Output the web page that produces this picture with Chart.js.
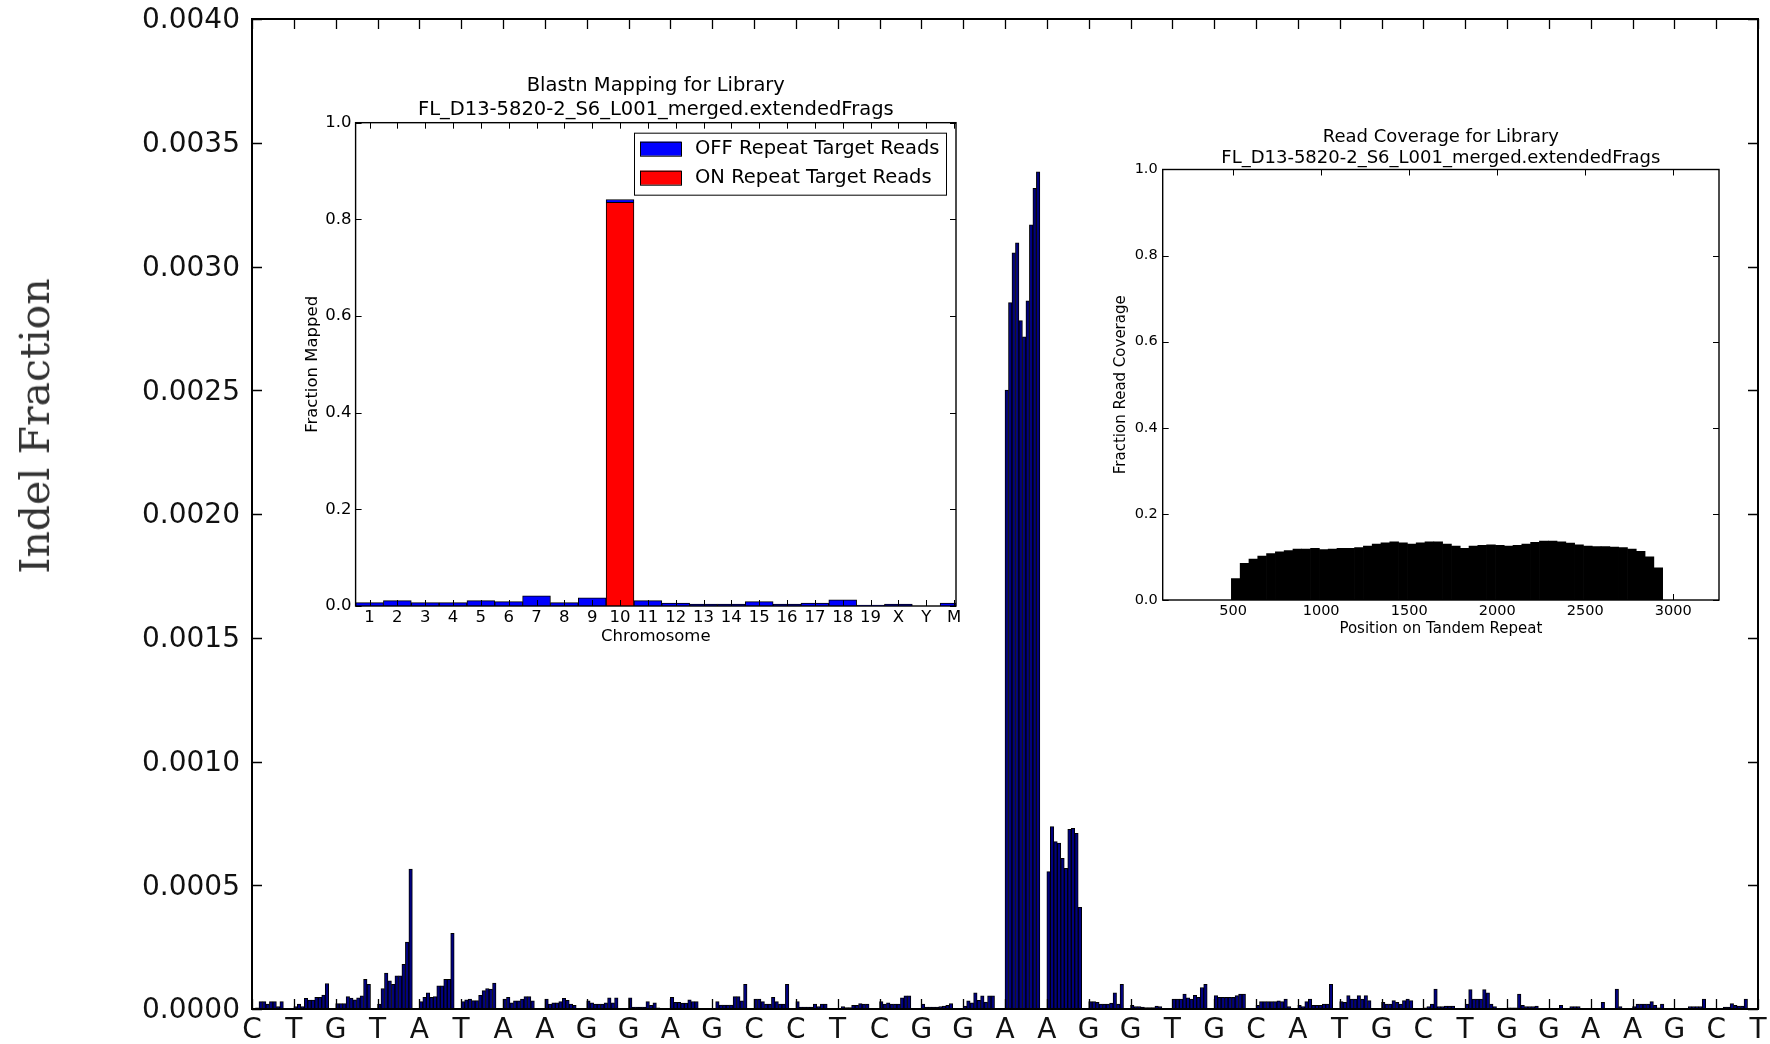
<!DOCTYPE html>
<html>
<head>
<meta charset="utf-8">
<title>Indel Fraction</title>
<script src="https://cdn.jsdelivr.net/npm/chart.js@4.4.1/dist/chart.umd.min.js"></script>
<style>
  body { margin: 0; background: #fff; }
  #wrap { position: relative; width: 1770px; height: 1044px; overflow: hidden; }
  canvas { position: absolute; }
  #ylabel {
    position: absolute; left: 35px; top: 426px;
    transform: translate(-50%, -50%) rotate(-90deg);
    font: 41px 'DejaVu Serif', serif; color: #333; white-space: nowrap;
  }
</style>
</head>
<body>
<div id="wrap">
  <canvas id="mainChart" width="1770" height="1044" style="left:0;top:0;width:1770px;height:1044px"></canvas>
  <canvas id="blastChart" width="674" height="579" style="left:301px;top:71px;width:674px;height:579px"></canvas>
  <canvas id="coverageChart" width="650" height="518" style="left:1110px;top:123px;width:650px;height:518px"></canvas>
  <div id="ylabel">Indel Fraction</div>
</div>
<script>
// sequence letters on the x axis
const sequence = ['C','T','G','T','A','T','A','A','G','G','A','G','C','C','T','C','G','G',
                  'A','A','G','G','T','G','C','A','T','G','C','T','G','G','A','A','G','C','T'];

// indel fraction, 10 bars between each pair of letters
const indelFraction = [
  [0, 0.000005, 0.00003, 0.00003, 0.00002, 0.00003, 0.00003, 0.00001, 0.00003, 0],
  [0.00001, 0.00002, 0.00001, 0.000043, 0.000036, 0.000036, 0.000047, 0.000047, 0.000056, 0.000103],
  [0.000022, 0.000022, 0.000022, 0.00005, 0.000044, 0.000037, 0.000045, 0.000053, 0.00012, 0.0001],
  [0.00002, 0.000083, 0.000145, 0.000114, 0.0001, 0.000134, 0.000134, 0.00018, 0.00027, 0.000565],
  [0.00003, 0.000047, 0.000065, 0.000047, 0.00005, 0.000094, 0.000094, 0.00012, 0.00012, 0.000306],
  [0.00003, 0.000037, 0.00004, 0.000034, 0.000034, 0.000055, 0.000074, 0.000083, 0.00008, 0.000105],
  [0.00004, 0.000047, 0.000025, 0.000033, 0.000033, 0.00004, 0.00005, 0.00005, 0.000033, 0],
  [0.00004, 0.00002, 0.000025, 0.000025, 0.00003, 0.000043, 0.000035, 0.00002, 0.000015, 0],
  [0.000033, 0.000025, 0.00002, 0.00002, 0.00002, 0.000025, 0.000045, 0.000025, 0.000045, 0],
  [0.000045, 0.000008, 0.000008, 0.000008, 0.000008, 0.00003, 0.000015, 0.000025, 0.000005, 0],
  [0.000047, 0.000027, 0.000027, 0.000024, 0.000024, 0.000037, 0.00003, 0.00003, 0, 0],
  [0, 0.00003, 0.000016, 0.000016, 0.000016, 0.000016, 0.00005, 0.00005, 0.000033, 0.0001],
  [0.00004, 0.00004, 0.00003, 0.00002, 0.00002, 0.000047, 0.00003, 0.00002, 0.00002, 0.0001],
  [0.00003, 0.000008, 0.000008, 0.000008, 0.000008, 0.00002, 0.00001, 0.00002, 0.00002, 0],
  [0.000003, 0.00001, 0.000006, 0.000006, 0.000015, 0.000015, 0.000022, 0.00002, 0.00002, 0],
  [0.00003, 0.00002, 0.000025, 0.00002, 0.00002, 0.00002, 0.000045, 0.000053, 0.000053, 0],
  [0.00002, 0.000008, 0.000008, 0.000008, 0.000008, 0.00001, 0.000012, 0.000015, 0.000022, 0],
  [0.000012, 0.000033, 0.000025, 0.000065, 0.000035, 0.000053, 0.000028, 0.000053, 0.000053, 0],
  [0.002501, 0.002854, 0.003055, 0.003096, 0.002781, 0.002716, 0.002861, 0.003168, 0.003316, 0.003383],
  [0.000555, 0.000737, 0.000676, 0.00067, 0.000609, 0.000568, 0.000726, 0.00073, 0.00071, 0.000411],
  [0.00003, 0.00003, 0.000027, 0.00002, 0.00002, 0.00002, 0.000024, 0.000065, 0.00002, 0.0001],
  [0.000015, 0.00001, 0.00001, 0.000008, 0.000006, 0.000006, 0.000006, 0.000012, 0.00001, 0],
  [0.00004, 0.00004, 0.00004, 0.00006, 0.000045, 0.00004, 0.000055, 0.000047, 0.000087, 0.0001],
  [0.000054, 0.000047, 0.000047, 0.000047, 0.000047, 0.000047, 0.000054, 0.00006, 0.00006, 0],
  [0.000015, 0.00003, 0.00003, 0.00003, 0.00003, 0.00003, 0.000033, 0.00003, 0.00004, 0.00001],
  [0.000015, 0.00001, 0.00003, 0.00004, 0.000015, 0.000015, 0.000015, 0.00002, 0.00002, 0.0001],
  [0.00003, 0.000027, 0.000054, 0.00004, 0.00004, 0.000054, 0.00004, 0.000054, 0.000034, 0],
  [0.000027, 0.00002, 0.00002, 0.000034, 0.000027, 0.00002, 0.000034, 0.00004, 0.000034, 0],
  [0.000005, 0.00001, 0.00002, 0.00008, 0.00001, 0.00001, 0.000012, 0.000012, 0.000012, 0],
  [0.00002, 0.000078, 0.00004, 0.00004, 0.00004, 0.000078, 0.000065, 0.00002, 0.00001, 0],
  [0.000005, 0.000005, 0.000005, 0.00006, 0.000015, 0.00001, 0.00001, 0.00001, 0.000012, 0],
  [0.000003, 0.000003, 0.000003, 0.000015, 0.000003, 0.000003, 0.00001, 0.00001, 0.00001, 0],
  [0.000003, 0.000003, 0.000003, 0.000027, 0.000003, 0.000003, 0.000003, 0.00008, 0.00001, 0],
  [0.00001, 0.00002, 0.00002, 0.00002, 0.00002, 0.00003, 0.000015, 0.000005, 0.00002, 0],
  [0.000003, 0.000003, 0.000003, 0.000003, 0.00001, 0.00001, 0.00001, 0.00001, 0.00004, 0],
  [0.000003, 0.000003, 0.000008, 0.000008, 0.000022, 0.000015, 0.000012, 0.000012, 0.00004, 0]
];
const yTicks = [0, 0.0005, 0.001, 0.0015, 0.002, 0.0025, 0.003, 0.0035, 0.004];

// inset 1: blastn mapping
const chromosomes = ['1','2','3','4','5','6','7','8','9','10','11','12','13','14','15','16','17','18','19','X','Y','M'];
const offRepeat = [0.007, 0.011, 0.007, 0.007, 0.011, 0.009, 0.021, 0.007, 0.017, 0.006, 0.011,
                   0.006, 0.004, 0.004, 0.009, 0.004, 0.006, 0.013, 0.002, 0.004, 0, 0.006];
const onRepeat = [null, null, null, null, null, null, null, null, null, 0.835, null,
                  null, null, null, null, null, null, null, null, null, null, null];

// inset 2: read coverage, 50 bp bins starting at 490
const coverageStart = 490;
const coverageBin = 50;
const coverage = [0.05, 0.085, 0.095, 0.102, 0.108, 0.112, 0.115, 0.118, 0.118, 0.12,
                  0.117, 0.118, 0.12, 0.12, 0.122, 0.125, 0.13, 0.133, 0.135, 0.133,
                  0.13, 0.133, 0.135, 0.135, 0.13, 0.125, 0.12, 0.125, 0.127, 0.128,
                  0.127, 0.125, 0.127, 0.13, 0.134, 0.137, 0.137, 0.135, 0.132, 0.128,
                  0.125, 0.124, 0.124, 0.123, 0.122, 0.118, 0.113, 0.1, 0.075];
const coverageTicks = [500, 1000, 1500, 2000, 2500, 3000];

const FONT = "'DejaVu Sans', sans-serif";
Chart.defaults.font.family = FONT;
Chart.defaults.color = '#000';

// box around the axes with inward tick marks, matplotlib style
const frameTicks = {
  id: 'frameTicks',
  afterDatasetsDraw(chart, args, opts) {
    const { ctx, chartArea: a, scales } = chart;
    const len = opts.len;
    ctx.save();
    ctx.strokeStyle = '#000';
    ctx.lineWidth = opts.tickWidth;
    ctx.beginPath();
    scales.x.ticks.forEach((t, i) => {
      const x = Math.round(scales.x.getPixelForTick(i)) + 0.5;
      ctx.moveTo(x, a.bottom); ctx.lineTo(x, a.bottom - len);
      ctx.moveTo(x, a.top); ctx.lineTo(x, a.top + len);
    });
    scales.y.ticks.forEach((t, i) => {
      const y = Math.round(scales.y.getPixelForTick(i)) + 0.5;
      ctx.moveTo(a.left, y); ctx.lineTo(a.left + len, y);
      ctx.moveTo(a.right, y); ctx.lineTo(a.right - len, y);
    });
    ctx.stroke();
    ctx.lineWidth = opts.width;
    ctx.strokeRect(a.left, a.top, a.right - a.left, a.bottom - a.top);
    ctx.restore();
  }
};

// legend drawn inside the plot with a box
const boxLegend = {
  id: 'boxLegend',
  afterDraw(chart) {
    const { ctx, chartArea: a } = chart;
    const w = 312, h = 62;
    const x0 = a.right - 10 - w, y0 = a.top + 10;
    ctx.save();
    ctx.fillStyle = '#fff';
    ctx.fillRect(x0, y0, w, h);
    ctx.strokeStyle = '#000';
    ctx.lineWidth = 1;
    ctx.strokeRect(x0 + 0.5, y0 + 0.5, w, h);
    ctx.font = '19.5px ' + FONT;
    ctx.textBaseline = 'middle';
    chart.data.datasets.forEach((ds, i) => {
      const cy = y0 + 16 + i * 29;
      ctx.fillStyle = ds.backgroundColor;
      ctx.fillRect(x0 + 6, cy - 7, 41, 14);
      ctx.strokeRect(x0 + 6.5, cy - 6.5, 41, 14);
      ctx.fillStyle = '#000';
      ctx.fillText(ds.label, x0 + 61, cy);
    });
    ctx.restore();
  }
};

const noPadY = s => { s.paddingTop = 0; s.paddingBottom = 0; };
const noPadX = s => { s.paddingLeft = 0; s.paddingRight = 0; };

// main chart
const barPoints = [];
indelFraction.forEach((group, j) => {
  group.forEach((v, k) => barPoints.push({ x: j * 12 + k + 0.5, y: v }));
});

new Chart(document.getElementById('mainChart'), {
  type: 'bar',
  data: {
    datasets: [{
      data: barPoints,
      backgroundColor: '#000080',
      borderColor: '#000',
      borderWidth: 1,
      categoryPercentage: 1,
      barPercentage: 1
    }]
  },
  options: {
    responsive: false,
    animation: false,
    layout: { autoPadding: false, padding: { left: 0, right: 12, top: 19, bottom: 0 } },
    plugins: { legend: { display: false }, tooltip: { enabled: false },
               frameTicks: { len: 10, width: 2, tickWidth: 1.3 } },
    scales: {
      x: {
        type: 'linear', min: 0, max: (sequence.length - 1) * 12, offset: false,
        grid: { display: false, drawTicks: false }, border: { display: false },
        afterBuildTicks: s => { s.ticks = sequence.map((_, i) => ({ value: i * 12 })); },
        afterFit: s => { s.height = 35; noPadX(s); },
        ticks: { autoSkip: false, maxRotation: 0, padding: 5, font: { size: 28 }, color: '#111',
                 callback: v => sequence[Math.round(v / 12)] }
      },
      y: {
        min: 0, max: 0.004,
        grid: { display: false, drawTicks: false }, border: { display: false },
        afterBuildTicks: s => { s.ticks = yTicks.map(v => ({ value: v })); },
        afterFit: s => { s.width = 252; noPadY(s); },
        ticks: { padding: 12, labelOffset: 2, font: { size: 28 }, color: '#111', callback: v => v.toFixed(4) }
      }
    }
  },
  plugins: [frameTicks]
});

// inset 1: blastn mapping per chromosome (bars of width 1, axis cut at 21.57)
const offPoints = offRepeat.map((v, i) => ({ x: i + 0.5, y: v }));
const onPoints = onRepeat.map((v, i) => ({ x: i + 0.5, y: v }));

new Chart(document.getElementById('blastChart'), {
  type: 'bar',
  data: {
    datasets: [
      { label: 'OFF Repeat Target Reads', data: offPoints, backgroundColor: '#0000ff',
        borderColor: '#000', borderWidth: 1, order: 1 },
      { label: 'ON Repeat Target Reads', data: onPoints, backgroundColor: '#ff0000',
        borderColor: '#000', borderWidth: 1, order: 0 }
    ]
  },
  options: {
    responsive: false,
    animation: false,
    layout: { autoPadding: false, padding: { left: 0, right: 19, top: 0, bottom: 0 } },
    datasets: { bar: { categoryPercentage: 1, barPercentage: 1 } },
    plugins: {
      legend: { display: false }, tooltip: { enabled: false },
      title: { display: true, fullSize: false,
               text: ['Blastn Mapping for Library', 'FL_D13-5820-2_S6_L001_merged.extendedFrags'],
               font: { size: 19.5, weight: 'normal', lineHeight: 1.22 }, color: '#000',
               padding: { top: 3.3, bottom: 0.8 } },
      frameTicks: { len: 6, width: 1.4, tickWidth: 1 }
    },
    scales: {
      x: {
        type: 'linear', min: 0, max: 21.57, offset: false, stacked: true,
        grid: { display: false, drawTicks: false }, border: { display: false },
        afterBuildTicks: s => { s.ticks = chromosomes.map((_, i) => ({ value: i + 0.5 })); },
        afterFit: s => { s.height = 44; noPadX(s); },
        ticks: { autoSkip: false, maxRotation: 0, padding: 2, font: { size: 16.5 },
                 callback: v => chromosomes[Math.round(v - 0.5)] },
        title: { display: true, text: 'Chromosome', font: { size: 16.5 }, padding: { top: 0, bottom: 3 } }
      },
      y: {
        stacked: true, min: 0, max: 1,
        grid: { display: false, drawTicks: false }, border: { display: false },
        afterFit: s => { s.width = 54.6; noPadY(s); },
        ticks: { stepSize: 0.2, padding: 4, font: { size: 16.5 }, callback: v => v.toFixed(1) },
        title: { display: true, text: 'Fraction Mapped', font: { size: 16.5 }, padding: { top: 2, bottom: 0 } }
      }
    }
  },
  plugins: [frameTicks, boxLegend]
});

// inset 2: read coverage along the tandem repeat
const coveragePoints = coverage.map((v, i) => ({ x: coverageStart + coverageBin * (i + 0.5), y: v }));

new Chart(document.getElementById('coverageChart'), {
  type: 'bar',
  data: {
    datasets: [{
      data: coveragePoints,
      backgroundColor: '#000',
      borderColor: '#000',
      borderWidth: 0,
      categoryPercentage: 1,
      barPercentage: 1
    }]
  },
  options: {
    responsive: false,
    animation: false,
    layout: { autoPadding: false, padding: { left: 0, right: 41, top: 0, bottom: 0 } },
    plugins: {
      legend: { display: false }, tooltip: { enabled: false },
      title: { display: true, fullSize: false,
               text: ['Read Coverage for Library', 'FL_D13-5820-2_S6_L001_merged.extendedFrags'],
               font: { size: 18, weight: 'normal', lineHeight: 1.2 }, color: '#000',
               padding: { top: 3.3, bottom: 0 } },
      frameTicks: { len: 6, width: 1.4, tickWidth: 1 }
    },
    scales: {
      x: {
        type: 'linear', min: 100, max: 3260, offset: false,
        grid: { display: false, drawTicks: false }, border: { display: false },
        afterBuildTicks: s => { s.ticks = coverageTicks.map(v => ({ value: v })); },
        afterFit: s => { s.height = 41; noPadX(s); },
        ticks: { autoSkip: false, maxRotation: 0, padding: 3, font: { size: 14.5 }, callback: v => String(v) },
        title: { display: true, text: 'Position on Tandem Repeat', font: { size: 15 }, padding: { top: 0, bottom: 3 } }
      },
      y: {
        min: 0, max: 1,
        grid: { display: false, drawTicks: false }, border: { display: false },
        afterFit: s => { s.width = 52.7; noPadY(s); },
        ticks: { stepSize: 0.2, padding: 5, font: { size: 14.5 }, callback: v => v.toFixed(1) },
        title: { display: true, text: 'Fraction Read Coverage', font: { size: 15 }, padding: { top: 2, bottom: 0 } }
      }
    }
  },
  plugins: [frameTicks]
});
</script>
</body>
</html>
